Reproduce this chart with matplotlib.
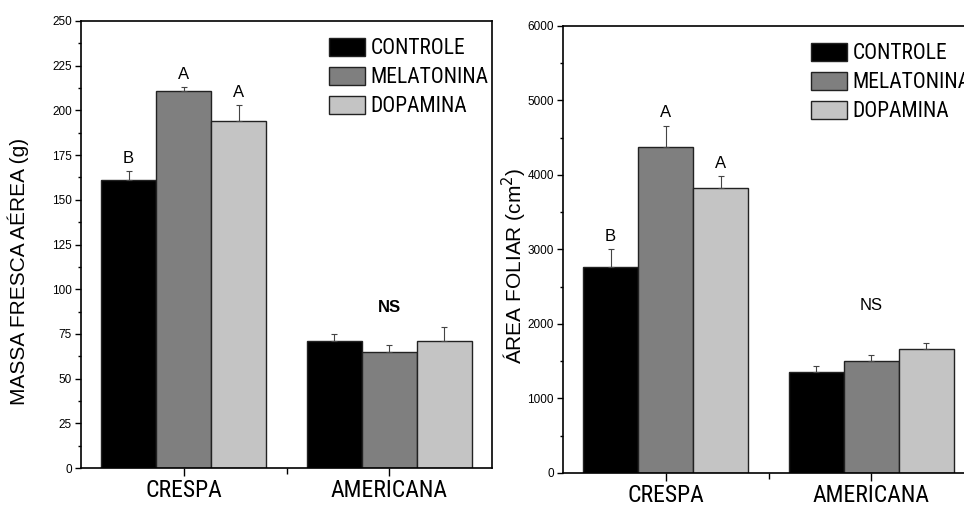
import numpy as np
import matplotlib.pyplot as plt
from matplotlib import font_manager
from matplotlib.ticker import MultipleLocator, FixedLocator

cultivars = ["CRESPA", "AMERICANA"]
treatments = ["CONTROLE", "MELATONINA", "DOPAMINA"]
colors = ["#000000", "#7f7f7f", "#c4c4c4"]

# massa fresca aerea (g): rows = treatment, cols = cultivar
mass = [[161, 71], [211, 65], [194, 71]]
mass_err = [[5, 4], [2, 4], [9, 8]]
mass_letters = [["B", ""], ["A", ""], ["A", ""]]

# area foliar (cm2)
area = [[2760, 1360], [4380, 1500], [3820, 1660]]
area_err = [[240, 80], [280, 90], [160, 90]]
area_letters = [["B", ""], ["A", ""], ["A", ""]]

REG = ["Liberation Sans", "DejaVu Sans"]

# look for a condensed face, otherwise fall back to Liberation Sans
fonts = font_manager.fontManager.ttflist
names = {f.name for f in fonts}
narrow = None
for nm in ["Liberation Sans Narrow", "Roboto Condensed", "Open Sans Condensed"]:
    if nm in names:
        narrow = {"family": [nm, "DejaVu Sans"]}
        break
if narrow is None and any(f.name == "DejaVu Sans" and f.stretch == "condensed" for f in fonts):
    narrow = {"family": ["DejaVu Sans"], "stretch": "condensed"}
if narrow is None:
    NARROW = {"family": REG}
    big, leg = 13.5, 13
else:
    NARROW = narrow
    big, leg = 17, 15.5

fig = plt.figure(figsize=(9.64, 5.08), dpi=100)
ax1 = fig.add_axes([0.084, 0.0787, 0.4264, 0.88])
ax2 = fig.add_axes([0.584, 0.0689, 0.4264, 0.88])

x = np.arange(1, len(cultivars) + 1)
w = 0.268


def draw(ax, vals, errs, letters, ymax, ystep, ylabel, ns_bold, ns_y, lab_xy):
    for i, t in enumerate(treatments):
        xi = x + (i - 1) * w
        ax.bar(xi, vals[i], w, color=colors[i], edgecolor="#222222", linewidth=1.0, label=t)
        ax.errorbar(xi, vals[i], yerr=[[0] * len(x), errs[i]], fmt="none",
                    ecolor="#444444", elinewidth=0.8, capsize=2.5, capthick=0.8)
        for j in range(len(x)):
            if letters[i][j]:
                ax.text(xi[j], vals[i][j] + errs[i][j] + ymax * 0.012, letters[i][j],
                        ha="center", va="bottom", fontsize=12, family=REG)
    ax.text(x[1], ns_y, "NS", ha="center", va="center", fontsize=12, family=REG,
            fontweight="bold" if ns_bold else "normal")
    ax.set_xlim(0.5, 2.5)
    ax.set_ylim(0, ymax)
    ax.yaxis.set_major_locator(MultipleLocator(ystep))
    ax.yaxis.set_minor_locator(MultipleLocator(ystep / 2))
    ax.xaxis.set_major_locator(FixedLocator(x))
    ax.xaxis.set_minor_locator(FixedLocator([1.5]))
    ax.set_xticklabels(cultivars, fontsize=big, **NARROW)
    for lab in ax.get_yticklabels():
        lab.set_family(REG)
        lab.set_fontsize(8.5)
    ax.tick_params(axis="y", which="major", direction="out", length=4.5, width=1, pad=2)
    ax.tick_params(axis="y", which="minor", direction="out", length=2.5, width=1)
    ax.tick_params(axis="x", which="major", direction="out", length=6, width=1, pad=2)
    ax.tick_params(axis="x", which="minor", direction="out", length=4, width=1)
    for s in ax.spines.values():
        s.set_linewidth(1.2)
    ax.set_ylabel(ylabel, fontsize=15, family=REG)
    ax.yaxis.set_label_coords(*lab_xy)
    ax.legend(loc="upper left", bbox_to_anchor=(0.603, 0.962), frameon=False,
              prop=dict(size=leg, **NARROW), handlelength=1.7, handleheight=0.9,
              handletextpad=0.25, labelspacing=0.35, borderpad=0, borderaxespad=0)


draw(ax1, mass, mass_err, mass_letters, 250, 25, "MASSA FRESCA AÉREA (g)", True, 90,
     (-0.127, 0.44))
draw(ax2, area, area_err, area_letters, 6000, 1000, "ÁREA FOLIAR (cm$^2$)", False, 2250,
     (-0.083, 0.463))

fig.savefig("out.png", dpi=100)
